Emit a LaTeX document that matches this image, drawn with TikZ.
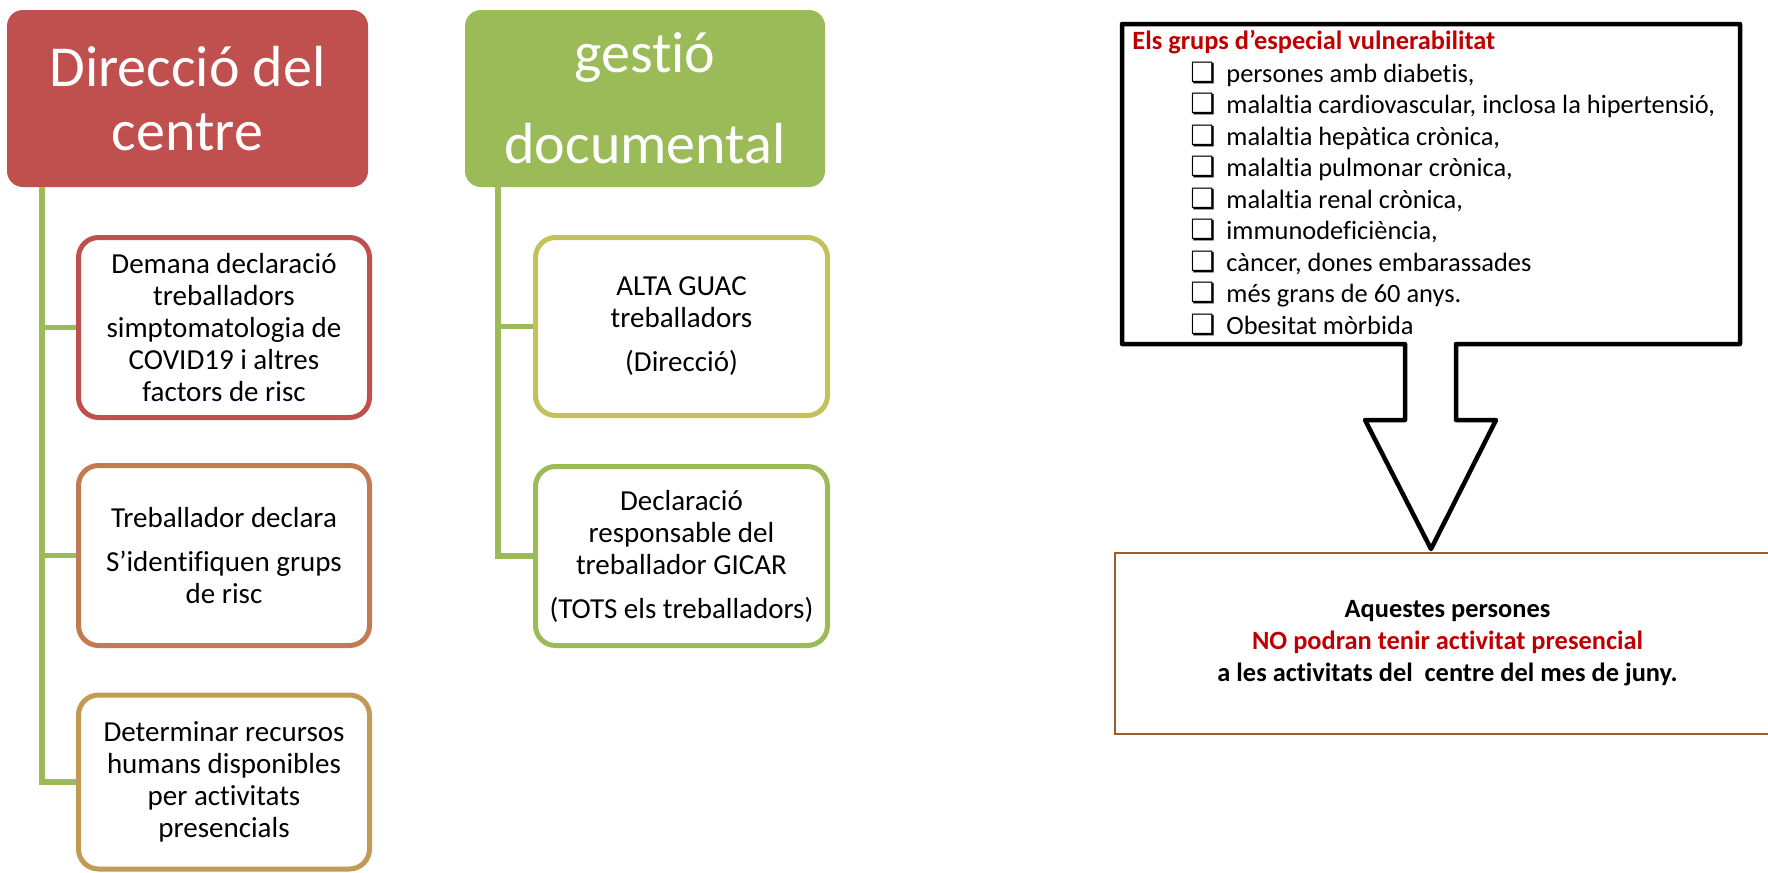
\documentclass[tikz,border=0pt]{standalone}
\usepackage{fontspec}
\setmainfont{Carlito}[Ligatures=NoCommon]
\newfontfamily\dejavu{DejaVu Sans}
\usepackage{xcolor}
\usepackage{tikz}
\definecolor{capred}{HTML}{C0504D}
\definecolor{capgreen}{HTML}{9BBB59}
\definecolor{caporange}{HTML}{C47A50}
\definecolor{capgold}{HTML}{C19B55}
\definecolor{capolive}{HTML}{C3C15C}
\definecolor{capdarkred}{HTML}{C00000}
\definecolor{capbrown}{HTML}{A05A2C}
\newcommand{\casella}{\makebox[17pt][l]{\hspace{-1pt}\dejavu\fontsize{14}{14}\selectfont\char"274F}}

\begin{document}
\begin{tikzpicture}[x=0.5pt, y=-0.5pt,
  header/.style={rounded corners=8pt, inner sep=0pt, minimum width=180.5pt,
    minimum height=88.5pt, text=white, align=center,
    font=\fontsize{29}{32}\selectfont},
  child/.style={draw, line width=2.5pt, rounded corners=10pt, fill=white,
    inner sep=0pt, minimum width=145.5pt, minimum height=90pt, align=center,
    font=\fontsize{14.5}{16}\selectfont},
  trunk/.style={draw=capgreen, line width=2.8pt},
  item/.style={anchor=base west, inner sep=0pt,
    font=\fontsize{13.2}{15.85}\selectfont}]

 \clip (0,0) rectangle (1768,873);
 \fill[white] (0,0) rectangle (1768,873);

 \node[header, fill=capred] (direccio) at (187.5,98.5)
     {Direcció del\\centre};

 \node[header, fill=capgreen, minimum width=180pt,
       font=\fontsize{29}{45.5}\selectfont] (gestio) at (645,98.5)
     {gestió\\documental};

 \node[child, draw=capred] (direccio_1) at (224,327.5)
     {Demana declaració\\treballadors\\simptomatologia de\\COVID19 i altres\\factors de risc};

 \node[child, draw=caporange] (direccio_2) at (224,555.5)
     {Treballador declara\\[6pt]S’identifiquen grups\\de risc};

 \node[child, draw=capgold, minimum height=87pt] (direccio_3) at (224,782)
     {Determinar recursos\\humans disponibles\\per activitats\\presencials};

 \node[child, draw=capolive, minimum width=146pt, minimum height=89pt] (gestio_1) at (681.5,326.5)
     {ALTA GUAC\\treballadors\\[6pt](Direcció)};

 \node[child, draw=capgreen, minimum width=146pt, minimum height=89.5pt] (gestio_2) at (681.5,556)
     {Declaració\\responsable del\\treballador GICAR\\[6pt](TOTS els treballadors)};

 \coordinate (direccio_tronc) at (42,187);
 \coordinate (gestio_tronc) at (498,187);

 \draw [trunk] (direccio_tronc) |- (direccio_1.west);
 \draw [trunk] (direccio_tronc) |- (direccio_2.west);
 \draw [trunk] (direccio_tronc) |- (direccio_3.west);
 \draw [trunk] (gestio_tronc) |- (gestio_1.west);
 \draw [trunk] (gestio_tronc) |- (gestio_2.west);

 \draw [line width=2.25pt, line join=round]
     (1122,24) -- (1740,24) -- (1740,344) -- (1456,344) -- (1456,420)
     -- (1496,420) -- (1431,549) -- (1365,420) -- (1405,420) -- (1405,344)
     -- (1122,344) -- cycle;

 \node[item, text=capdarkred, font=\bfseries\fontsize{13.2}{15.85}\selectfont] (grups) at (1132,49)
     {Els grups d’especial vulnerabilitat};
 \node[item] (grups_1) at (1192,82) {\casella persones amb diabetis,};
 \node[item] (grups_2) at (1192,113.5) {\casella malaltia cardiovascular, inclosa la hipertensió,};
 \node[item] (grups_3) at (1192,145) {\casella malaltia hepàtica crònica,};
 \node[item] (grups_4) at (1192,176.5) {\casella malaltia pulmonar crònica,};
 \node[item] (grups_5) at (1192,208) {\casella malaltia renal crònica,};
 \node[item] (grups_6) at (1192,239.5) {\casella immunodeficiència,};
 \node[item] (grups_7) at (1192,271) {\casella càncer, dones embarassades};
 \node[item] (grups_8) at (1192,302.5) {\casella més grans de 60 anys.};
 \node[item] (grups_9) at (1192,334) {\casella Obesitat mòrbida};

 \node[draw=capbrown, line width=0.75pt, inner sep=0pt, minimum width=332.5pt,
       minimum height=90.5pt, align=center,
       font=\bfseries\fontsize{13.2}{16}\selectfont] (avis) at (1447.5,643.5)
     {Aquestes persones\\\textcolor{capdarkred}{NO podran tenir activitat presencial}\\a les activitats del\ \ centre del mes de juny.};

\end{tikzpicture}
\end{document}
